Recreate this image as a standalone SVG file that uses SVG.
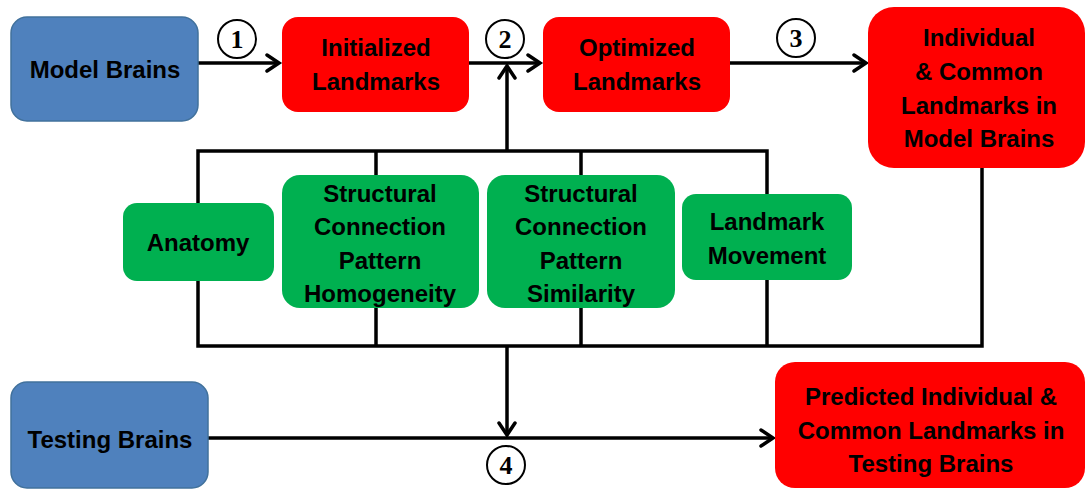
<svg xmlns="http://www.w3.org/2000/svg" width="1087" height="492" viewBox="0 0 1087 492">
<defs>
<marker id="arr" markerUnits="userSpaceOnUse" markerWidth="20" markerHeight="20" viewBox="-14 -10 16 20" refX="0" refY="0" orient="auto">
<path d="M-12,-8 L0,0 L-12,8" fill="none" stroke="#000" stroke-width="3.5" stroke-linecap="round" stroke-linejoin="miter"/>
</marker>
<style>
.blue{fill:#4F81BD;stroke:#41719C;stroke-width:1.5}
.red{fill:#FF0000}
.green{fill:#00B050}
.t{font-family:"Liberation Sans",Arial,sans-serif;font-weight:bold;font-size:24px;fill:#000;text-anchor:middle}
.ln{fill:none;stroke:#000;stroke-width:3.5}
.num{fill:#fff;stroke:#000;stroke-width:2}
.nt{font-family:"Liberation Serif","Times New Roman",serif;font-weight:bold;font-size:26px;fill:#000;text-anchor:middle}
</style>
</defs>
<rect width="1087" height="492" fill="#fff"/>
<g id="connectors">
<path class="ln" d="M198,63 H279" marker-end="url(#arr)"/>
<path class="ln" d="M469,63 H540" marker-end="url(#arr)"/>
<path class="ln" d="M507,151 V66" marker-end="url(#arr)"/>
<path class="ln" d="M730,63 H866" marker-end="url(#arr)"/>
<path class="ln" d="M198,203 V151 H767 V194 M376,151 V175 M581,151 V175"/>
<path class="ln" d="M198,281 V346 H982 V168 M376,308 V346 M581,308 V346 M767,280 V346"/>
<path class="ln" d="M507,346 V435" marker-end="url(#arr)"/>
<path class="ln" d="M208,438 H773" marker-end="url(#arr)"/>
</g>
<g id="n1"><circle class="num" cx="237" cy="39" r="19"/><text class="nt" x="237" y="48">1</text></g>
<g id="n2"><circle class="num" cx="505" cy="39" r="19"/><text class="nt" x="505" y="48">2</text></g>
<g id="n3"><circle class="num" cx="796" cy="38" r="19"/><text class="nt" x="796" y="47">3</text></g>
<g id="n4"><circle class="num" cx="506" cy="465" r="19"/><text class="nt" x="506" y="474">4</text></g>
<g id="model-brains"><rect class="blue" x="11" y="17" width="187" height="104" rx="16"/><text class="t" x="105" y="78">Model Brains</text></g>
<g id="initialized"><rect class="red" x="282" y="17" width="187" height="95" rx="16"/><text class="t" x="376" y="56">Initialized</text><text class="t" x="376" y="90">Landmarks</text></g>
<g id="optimized"><rect class="red" x="543" y="17" width="187" height="95" rx="16"/><text class="t" x="637" y="56">Optimized</text><text class="t" x="637" y="90">Landmarks</text></g>
<g id="individual"><rect class="red" x="868" y="7" width="217" height="161" rx="26"/><text class="t" x="979" y="46">Individual</text><text class="t" x="979" y="80">&amp; Common</text><text class="t" x="979" y="114">Landmarks in</text><text class="t" x="979" y="147">Model Brains</text></g>
<g id="anatomy"><rect class="green" x="123" y="203" width="151" height="78" rx="14"/><text class="t" x="198" y="251">Anatomy</text></g>
<g id="homogeneity"><rect class="green" x="282" y="175" width="197" height="133" rx="18"/><text class="t" x="380" y="202">Structural</text><text class="t" x="380" y="235">Connection</text><text class="t" x="380" y="269">Pattern</text><text class="t" x="380" y="302">Homogeneity</text></g>
<g id="similarity"><rect class="green" x="487" y="175" width="188" height="133" rx="18"/><text class="t" x="581" y="202">Structural</text><text class="t" x="581" y="235">Connection</text><text class="t" x="581" y="269">Pattern</text><text class="t" x="581" y="302">Similarity</text></g>
<g id="landmark-movement"><rect class="green" x="682" y="194" width="170" height="86" rx="14"/><text class="t" x="767" y="230">Landmark</text><text class="t" x="767" y="264">Movement</text></g>
<g id="testing-brains"><rect class="blue" x="11" y="382" width="197" height="106" rx="16"/><text class="t" x="110" y="448">Testing Brains</text></g>
<g id="predicted"><rect class="red" x="775" y="362" width="310" height="126" rx="20"/><text class="t" x="931" y="405">Predicted Individual &amp;</text><text class="t" x="931" y="439">Common Landmarks in</text><text class="t" x="931" y="472">Testing Brains</text></g>
</svg>
